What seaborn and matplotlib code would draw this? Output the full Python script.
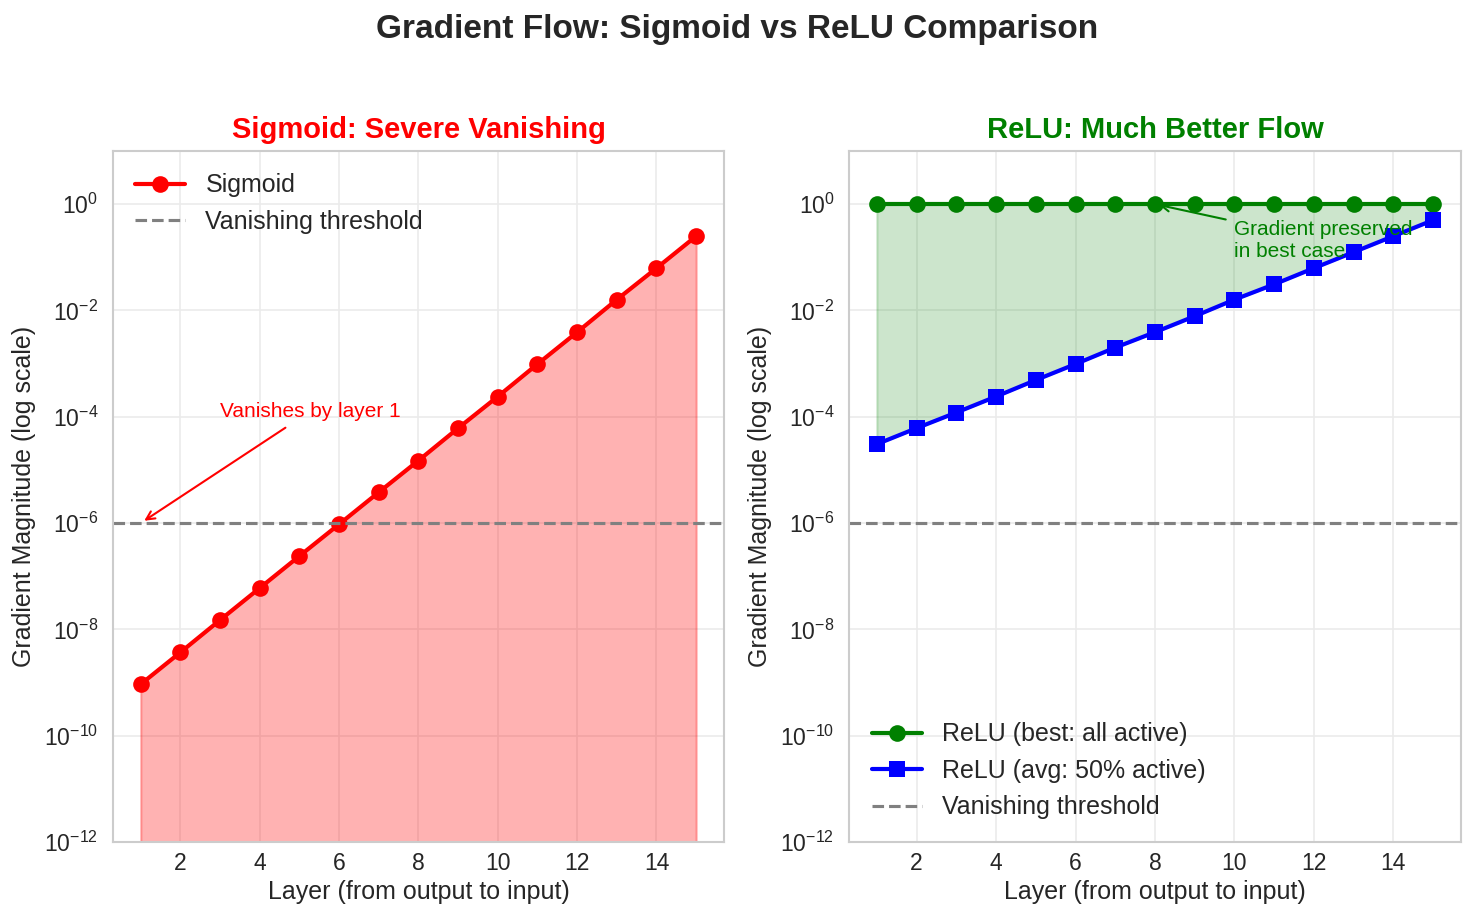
import numpy as np
import pandas as pd
import seaborn as sns
import matplotlib.pyplot as plt

# data
layers = [1, 2, 3, 4, 5, 6, 7, 8, 9, 10, 11, 12, 13, 14, 15]
sigmoid_grad = [9.3e-10, 3.7e-09, 1.5e-08, 6.0e-08, 2.4e-07, 9.5e-07, 3.8e-06, 1.5e-05,
                6.1e-05, 2.4e-04, 9.8e-04, 3.9e-03, 1.6e-02, 6.25e-02, 0.25]
relu_best = [1.0] * 15
relu_avg = [3.05e-05, 6.1e-05, 1.2e-04, 2.4e-04, 4.9e-04, 9.8e-04, 2.0e-03, 3.9e-03,
            7.8e-03, 1.6e-02, 3.1e-02, 6.25e-02, 0.125, 0.25, 0.5]
threshold = 1e-6

sns.set_style("whitegrid", {"axes.edgecolor": "#cccccc", "grid.color": "#ebebeb"})
plt.rcParams['font.family'] = ['Liberation Sans', 'DejaVu Sans']
plt.rcParams['axes.linewidth'] = 1.0
plt.rcParams['mathtext.fontset'] = 'custom'
plt.rcParams['mathtext.rm'] = 'Liberation Sans'
plt.rcParams['mathtext.it'] = 'Liberation Sans:italic'
plt.rcParams['mathtext.bf'] = 'Liberation Sans:bold'

df = pd.DataFrame({"layer": layers, "sigmoid": sigmoid_grad, "best": relu_best, "avg": relu_avg})

# figure drawn at dpi 150 -> 1475x920
fig = plt.figure(figsize=(1475 / 150, 920 / 150))
ax1 = fig.add_axes([0.0766, 0.0848, 0.4142, 0.7511])
ax2 = fig.add_axes([0.5756, 0.0848, 0.4149, 0.7511])
axes = [ax1, ax2]

# left: sigmoid
ax = ax1
sns.lineplot(data=df, x="layer", y="sigmoid", ax=ax, color="red", marker="o", markersize=8,
             markeredgewidth=0, linewidth=2, label="Sigmoid")
ax.fill_between(df["layer"], 1e-12, df["sigmoid"], color="red", alpha=0.3)
ax.axhline(threshold, color="gray", linestyle="--", linewidth=1.5, label="Vanishing threshold")
ax.annotate("Vanishes by layer 1", xy=(1, threshold), xytext=(3, 1e-4), color="red", fontsize=10,
            arrowprops=dict(arrowstyle="->", color="red", lw=1))
ax.set_title("Sigmoid: Severe Vanishing", color="red", fontsize=14, fontweight="bold")

# right: relu
ax = ax2
sns.lineplot(data=df, x="layer", y="best", ax=ax, color="green", marker="o", markersize=8,
             markeredgewidth=0, linewidth=2, label="ReLU (best: all active)")
sns.lineplot(data=df, x="layer", y="avg", ax=ax, color="blue", marker="s", markersize=8,
             markeredgewidth=0, linewidth=2, label="ReLU (avg: 50% active)")
ax.fill_between(df["layer"], df["avg"], df["best"], color="green", alpha=0.2)
ax.axhline(threshold, color="gray", linestyle="--", linewidth=1.5, label="Vanishing threshold")
ax.annotate("Gradient preserved\nin best case", xy=(8, 1.0), xytext=(10, 0.1), color="green",
            fontsize=10, arrowprops=dict(arrowstyle="->", color="green", lw=1))
ax.set_title("ReLU: Much Better Flow", color="green", fontsize=14, fontweight="bold")

for i, ax in enumerate(axes):
    ax.set_yscale("log")
    ax.set_ylim(1e-12, 10)
    ax.set_xlim(0.3, 15.7)
    ax.set_xticks([2, 4, 6, 8, 10, 12, 14])
    ax.set_xlabel("Layer (from output to input)", fontsize=12, labelpad=2)
    ax.set_ylabel("Gradient Magnitude (log scale)", fontsize=12)
    ax.tick_params(labelsize=11)
    ax.tick_params(axis="x", pad=1.5)
    ax.legend(loc="upper left" if i == 0 else "lower left", fontsize=12, frameon=False)

fig.suptitle("Gradient Flow: Sigmoid vs ReLU Comparison", fontsize=16, fontweight="bold", y=0.985)
fig.savefig("out.png", dpi=150)
